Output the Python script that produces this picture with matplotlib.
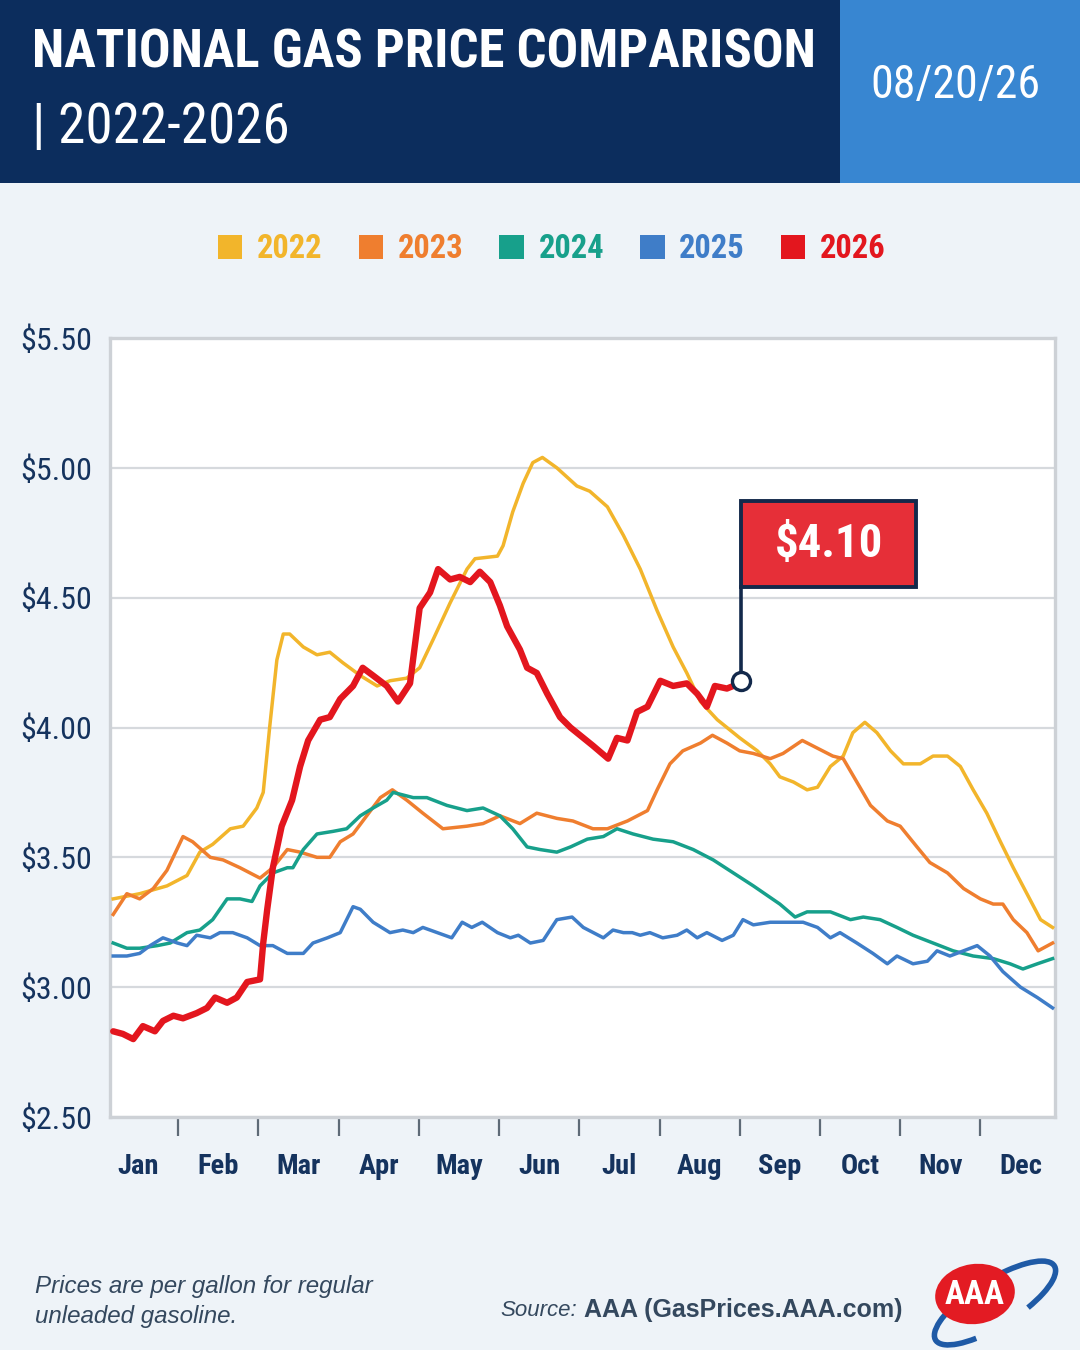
import matplotlib
matplotlib.use("Agg")
import matplotlib.pyplot as plt
from matplotlib import font_manager
from matplotlib.patches import Rectangle, Ellipse, Arc, Patch

# --- data (month position from Jan 1 = 0, price in $/gal) ---
years = ["2022", "2023", "2024", "2025", "2026"]
months = ["Jan", "Feb", "Mar", "Apr", "May", "Jun",
          "Jul", "Aug", "Sep", "Oct", "Nov", "Dec"]
price_ticks = [2.50, 3.00, 3.50, 4.00, 4.50, 5.00, 5.50]

m22 = [0.19, 0.52, 0.86, 1.11, 1.27, 1.43, 1.65, 1.81, 1.98, 2.06, 2.14, 2.23, 2.31, 2.39,
       2.56, 2.73, 2.89, 3.05, 3.27, 3.48, 3.64, 3.85, 4.01, 4.18, 4.39, 4.60, 4.70, 4.98,
       5.05, 5.17, 5.30, 5.42, 5.54, 5.72, 5.97, 6.13, 6.35, 6.55, 6.76, 6.97, 7.17, 7.34,
       7.51, 7.72, 8.00, 8.22, 8.38, 8.50, 8.67, 8.84, 8.97, 9.13, 9.29, 9.41, 9.56, 9.71,
       9.88, 10.04, 10.25, 10.41, 10.59, 10.75, 10.91, 11.08, 11.25, 11.41, 11.58, 11.75, 11.90]
p22 = [3.34, 3.36, 3.39, 3.43, 3.52, 3.55, 3.61, 3.62, 3.69, 3.75, 4.00, 4.26, 4.36, 4.36,
       4.31, 4.28, 4.29, 4.25, 4.20, 4.16, 4.18, 4.19, 4.23, 4.34, 4.48, 4.61, 4.65, 4.66,
       4.70, 4.83, 4.94, 5.02, 5.04, 5.00, 4.93, 4.91, 4.85, 4.74, 4.61, 4.45, 4.31, 4.21,
       4.10, 4.03, 3.96, 3.91, 3.86, 3.81, 3.79, 3.76, 3.77, 3.85, 3.89, 3.98, 4.02, 3.98,
       3.91, 3.86, 3.86, 3.89, 3.89, 3.85, 3.76, 3.67, 3.56, 3.46, 3.36, 3.26, 3.23]

m23 = [0.19, 0.36, 0.52, 0.69, 0.86, 1.06, 1.18, 1.40, 1.56, 1.77, 2.02, 2.18, 2.36, 2.52,
       2.73, 2.89, 3.02, 3.18, 3.35, 3.52, 3.67, 3.85, 4.05, 4.30, 4.60, 4.80, 5.01, 5.26,
       5.47, 5.72, 5.92, 6.17, 6.35, 6.60, 6.85, 6.97, 7.13, 7.29, 7.51, 7.66, 7.84, 8.00,
       8.17, 8.38, 8.54, 8.78, 8.97, 9.16, 9.29, 9.46, 9.63, 9.84, 10.00, 10.21, 10.37,
       10.59, 10.79, 11.00, 11.16, 11.28, 11.41, 11.58, 11.72, 11.90]
p23 = [3.28, 3.36, 3.34, 3.38, 3.45, 3.58, 3.56, 3.50, 3.49, 3.46, 3.42, 3.46, 3.53, 3.52,
       3.50, 3.50, 3.56, 3.59, 3.66, 3.73, 3.76, 3.72, 3.67, 3.61, 3.62, 3.63, 3.66, 3.63,
       3.67, 3.65, 3.64, 3.61, 3.61, 3.64, 3.68, 3.76, 3.86, 3.91, 3.94, 3.97, 3.94, 3.91,
       3.90, 3.88, 3.90, 3.95, 3.92, 3.89, 3.88, 3.79, 3.70, 3.64, 3.62, 3.54, 3.48,
       3.44, 3.38, 3.34, 3.32, 3.32, 3.26, 3.21, 3.14, 3.17]

m24 = [0.19, 0.36, 0.52, 0.74, 0.90, 1.11, 1.27, 1.43, 1.61, 1.77, 1.92, 2.02, 2.18, 2.36,
       2.43, 2.56, 2.73, 2.93, 3.10, 3.27, 3.43, 3.60, 3.68, 3.93, 4.10, 4.35, 4.60, 4.80,
       5.01, 5.17, 5.35, 5.51, 5.72, 5.89, 6.10, 6.30, 6.47, 6.67, 6.92, 7.17, 7.42, 7.67,
       7.92, 8.17, 8.50, 8.69, 8.84, 9.13, 9.38, 9.54, 9.75, 9.96, 10.16, 10.41, 10.66,
       10.91, 11.16, 11.37, 11.53, 11.71, 11.90]
p24 = [3.17, 3.15, 3.15, 3.16, 3.17, 3.21, 3.22, 3.26, 3.34, 3.34, 3.33, 3.39, 3.44, 3.46,
       3.46, 3.53, 3.59, 3.60, 3.61, 3.66, 3.69, 3.72, 3.75, 3.73, 3.73, 3.70, 3.68, 3.69,
       3.66, 3.61, 3.54, 3.53, 3.52, 3.54, 3.57, 3.58, 3.61, 3.59, 3.57, 3.56, 3.53, 3.49,
       3.44, 3.39, 3.32, 3.27, 3.29, 3.29, 3.26, 3.27, 3.26, 3.23, 3.20, 3.17, 3.14,
       3.12, 3.11, 3.09, 3.07, 3.09, 3.11]

m25 = [0.19, 0.36, 0.52, 0.65, 0.81, 0.99, 1.11, 1.23, 1.40, 1.52, 1.68, 1.86, 2.02, 2.18,
       2.36, 2.56, 2.68, 2.86, 3.02, 3.18, 3.27, 3.43, 3.64, 3.80, 3.93, 4.05, 4.14, 4.41,
       4.54, 4.66, 4.79, 4.98, 5.14, 5.24, 5.39, 5.55, 5.72, 5.91, 6.05, 6.30, 6.42, 6.55,
       6.66, 6.76, 6.88, 7.04, 7.22, 7.34, 7.47, 7.59, 7.78, 7.92, 8.04, 8.17, 8.38, 8.59,
       8.79, 8.97, 9.13, 9.25, 9.46, 9.66, 9.84, 9.96, 10.16, 10.34, 10.46, 10.62, 10.79,
       10.96, 11.12, 11.28, 11.50, 11.71, 11.90]
p25 = [3.12, 3.12, 3.13, 3.16, 3.19, 3.17, 3.16, 3.20, 3.19, 3.21, 3.21, 3.19, 3.16, 3.16,
       3.13, 3.13, 3.17, 3.19, 3.21, 3.31, 3.30, 3.25, 3.21, 3.22, 3.21, 3.23, 3.22, 3.19,
       3.25, 3.23, 3.25, 3.21, 3.19, 3.20, 3.17, 3.18, 3.26, 3.27, 3.23, 3.19, 3.22, 3.21,
       3.21, 3.20, 3.21, 3.19, 3.20, 3.22, 3.19, 3.21, 3.18, 3.20, 3.26, 3.24, 3.25, 3.25,
       3.25, 3.23, 3.19, 3.21, 3.17, 3.13, 3.09, 3.12, 3.09, 3.10, 3.14, 3.12, 3.14,
       3.16, 3.12, 3.06, 3.00, 2.96, 2.92]

m26 = [0.19, 0.31, 0.44, 0.56, 0.71, 0.81, 0.94, 1.06, 1.23, 1.36, 1.46, 1.61, 1.73, 1.86,
       2.02, 2.06, 2.11, 2.18, 2.29, 2.42, 2.52, 2.62, 2.77, 2.89, 3.02, 3.18, 3.30, 3.43,
       3.60, 3.74, 3.89, 4.01, 4.14, 4.24, 4.39, 4.51, 4.64, 4.76, 4.89, 5.01, 5.10, 5.26,
       5.35, 5.47, 5.60, 5.76, 5.89, 6.01, 6.17, 6.36, 6.47, 6.60, 6.72, 6.85, 7.01, 7.17,
       7.34, 7.47, 7.59, 7.69, 7.84, 7.92, 8.02]
p26 = [2.83, 2.82, 2.80, 2.85, 2.83, 2.87, 2.89, 2.88, 2.90, 2.92, 2.96, 2.94, 2.96, 3.02,
       3.03, 3.17, 3.30, 3.46, 3.62, 3.72, 3.85, 3.95, 4.03, 4.04, 4.11, 4.16, 4.23, 4.20,
       4.16, 4.10, 4.17, 4.46, 4.52, 4.61, 4.57, 4.58, 4.56, 4.60, 4.56, 4.47, 4.39, 4.30,
       4.23, 4.21, 4.13, 4.04, 4.00, 3.97, 3.93, 3.88, 3.96, 3.95, 4.06, 4.08, 4.18, 4.16,
       4.17, 4.13, 4.08, 4.16, 4.15, 4.16, 4.18]

current_label = "$4.10"

# --- style ---
NAVY = "#0C2D5D"
BLUE_BOX = "#3886D1"
TEXT_NAVY = "#15335E"
colors = ["#F2B52B", "#EF7E2F", "#17A08B", "#3F7DC8", "#E3161E"]

names = {f.name for f in font_manager.fontManager.ttflist}
NARROW = next((n for n in ["Roboto Condensed", "Liberation Sans Narrow",
                           "Open Sans Condensed", "DejaVu Sans"] if n in names), "DejaVu Sans")
SANS = "Liberation Sans" if "Liberation Sans" in names else "DejaVu Sans"

fig = plt.figure(figsize=(10.8, 13.5), dpi=100)
fig.patch.set_facecolor("#EEF3F8")

# pixel-coordinate overlay for header / footer decoration
bg = fig.add_axes([0, 0, 1, 1], zorder=-1)
bg.set_xlim(0, 1080)
bg.set_ylim(1350, 0)
bg.axis("off")
bg.add_patch(Rectangle((0, 0), 840, 183, color=NAVY, lw=0))
bg.add_patch(Rectangle((840, 0), 240, 183, color=BLUE_BOX, lw=0))


def fit(t, width):
    r = fig.canvas.get_renderer()
    w = t.get_window_extent(r).width
    t.set_fontsize(t.get_fontsize() * width / w)


t1 = bg.text(32, 68, "NATIONAL GAS PRICE COMPARISON", color="white", fontsize=40,
             fontweight="bold", family=NARROW, va="baseline", ha="left")
fit(t1, 783)
t2 = bg.text(32, 143, "| 2022-2026", color="white", fontsize=40,
             family=NARROW, va="baseline", ha="left")
fit(t2, 258)
t3 = bg.text(955, 85, "08/20/26", color="white", fontsize=40,
             family=NARROW, va="center", ha="center")
fit(t3, 170)

# legend
handles = [Patch(facecolor=c, edgecolor="none", label=y) for c, y in zip(colors, years)]
leg = fig.legend(handles=handles, loc="center", bbox_to_anchor=(0.511, 1 - 249 / 1350),
                 ncol=5, frameon=False, handlelength=0.75, handleheight=0.75,
                 handletextpad=0.45, columnspacing=1.1,
                 prop=dict(family=NARROW, weight="bold", size=23.5))
for txt, c in zip(leg.get_texts(), colors):
    txt.set_color(c)

# main plot
ax = fig.add_axes([110 / 1080, 1 - 1117 / 1350, 945 / 1080, 779 / 1350])
ax.set_facecolor("white")
series = [(m22, p22), (m23, p23), (m24, p24), (m25, p25)]
for (mx, py), c in zip(series, colors[:4]):
    ax.plot(mx, py, color=c, lw=2.5, solid_joinstyle="round", zorder=3)
ax.plot(m26, p26, color=colors[4], lw=4.6, solid_joinstyle="round",
        solid_capstyle="round", zorder=5)

ax.set_xlim(0.15, 11.93)
ax.set_ylim(2.5, 5.5)
ax.set_yticks(price_ticks)
ax.set_yticklabels([f"${v:.2f}" for v in price_ticks], family=NARROW,
                   fontsize=23, color=TEXT_NAVY)
ax.tick_params(axis="y", length=0, pad=13)
ax.set_xticks(range(1, 12))
ax.set_xticklabels([])
ax.set_xticks([k + 0.5 for k in range(12)], minor=True)
ax.set_xticklabels(months, minor=True, family=NARROW, fontsize=20.5,
                   fontweight="bold", color=TEXT_NAVY)
ax.tick_params(axis="x", which="major", direction="out", length=14, width=1.6,
               color="#5E6A77")
ax.tick_params(axis="x", which="minor", length=0, pad=26)
ax.yaxis.grid(True, color="#D6D9DD", lw=1.6)
ax.set_axisbelow(True)
for s in ax.spines.values():
    s.set_color("#CDD1D6")
    s.set_linewidth(2.4)

# current price flag
lx, ly = m26[-1], p26[-1]
box_bottom, box_top, box_right = 4.541, 4.872, 10.2
ax.plot([lx, lx], [ly, box_bottom], color="#13294B", lw=2.6, zorder=6)
ax.add_patch(Rectangle((lx, box_bottom), box_right - lx, box_top - box_bottom,
                       facecolor="#E62F38", edgecolor="#13294B", lw=2.8, zorder=7))
ax.plot([lx], [ly], marker="o", ms=13, mfc="white", mec="#13294B", mew=2.4, zorder=8)
tf = ax.text((lx + box_right) / 2, (box_bottom + box_top) / 2, current_label,
             color="white", fontweight="bold", family=NARROW, fontsize=40,
             ha="center", va="center", zorder=9)
fit(tf, 108)

# footer
n1 = bg.text(35, 1286, "Prices are per gallon for regular", style="italic",
             family=SANS, fontsize=17, color="#34485E", va="center")
fit(n1, 338)
bg.text(35, 1316, "unleaded gasoline.", style="italic", family=SANS,
        fontsize=n1.get_fontsize(), color="#34485E", va="center")
s1 = bg.text(500, 1310, "Source:", style="italic", family=SANS, fontsize=17,
             color="#34485E", va="center")
fit(s1, 77)
s2 = bg.text(903, 1310, "AAA (GasPrices.AAA.com)", fontweight="bold", family=SANS,
             fontsize=17, color="#34485E", va="center", ha="right")
fit(s2, 319)

# AAA logo
bg.add_patch(Arc((995, 1303), 140, 46, angle=-32, theta1=150, theta2=40,
                 color="#1F5AA6", lw=4))
bg.add_patch(Ellipse((975, 1294), 80, 60, angle=-8, facecolor="#E31B23",
                     edgecolor="none"))
lg = bg.text(975, 1295, "AAA", color="white", fontweight="bold", family=NARROW,
             fontsize=20, ha="center", va="center")
fit(lg, 60)

fig.savefig("out.png", dpi=100, facecolor=fig.get_facecolor())
